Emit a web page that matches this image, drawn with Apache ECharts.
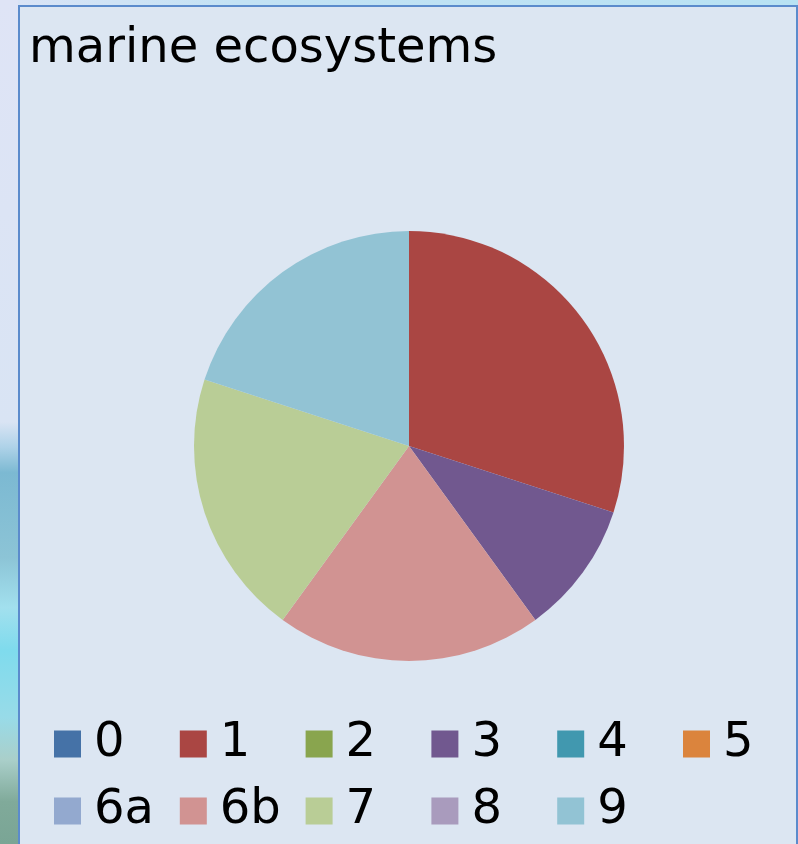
<!DOCTYPE html>
<html>
<head>
<meta charset="utf-8">
<title>marine ecosystems</title>
<script src="https://cdn.jsdelivr.net/npm/echarts@6/dist/echarts.min.js"></script>
<style>
  html, body { margin: 0; padding: 0; background: #dce6f2; }
  #chart { width: 798px; height: 844px; }
</style>
</head>
<body>
<div id="chart"></div>
<script>
// Categories and counts per category
const categories = ['0', '1', '2', '3', '4', '5', '6a', '6b', '7', '8', '9'];
const counts     = [0, 3, 0, 1, 0, 0, 0, 2, 2, 0, 2];
const colors = ['#4572a7', '#aa4643', '#89a54e', '#71588f', '#4198af', '#db843d',
                '#93a9cf', '#d19392', '#b9cd96', '#a99bbd', '#92c3d4'];
const legendRow1 = ['0', '1', '2', '3', '4', '5'];
const legendRow2 = ['6a', '6b', '7', '8', '9'];
const titleText = 'marine ecosystems';

const FONT = 'DejaVu Sans, Verdana, sans-serif';
const LEGEND_LEFT = 54;
const LEGEND_COL_STEP = 125.8;

const chart = echarts.init(document.getElementById('chart'), null, { renderer: 'canvas' });

// the legend is laid out as a grid: one vertical legend per column
const legends = legendRow1.map((first, c) => {
  const data = [first];
  if (c < legendRow2.length) data.push(legendRow2[c]);
  return {
    orient: 'vertical',
    left: LEGEND_LEFT + c * LEGEND_COL_STEP,
    top: 720,
    padding: 0,
    itemWidth: 27,
    itemHeight: 27,
    itemGap: 19,
    icon: 'rect',
    selectedMode: false,
    formatter: name => '{n|' + name + '}',
    textStyle: {
      fontFamily: FONT,
      fontSize: 48,
      color: '#000',
      rich: {
        n: { fontFamily: FONT, fontSize: 48, color: '#000', padding: [0, 0, 0, 8] }
      }
    },
    data: data
  };
});

chart.setOption({
  backgroundColor: '#dce6f2',
  color: colors,
  animation: false,
  title: {
    text: titleText,
    left: 24,
    top: 21,
    textStyle: { fontFamily: FONT, fontSize: 48, fontWeight: 'normal', color: '#000' }
  },
  legend: legends,
  graphic: [
    // surrounding slide strip along the top
    {
      type: 'rect', z: 100, silent: true,
      shape: { x: 0, y: 0, width: 798, height: 5 },
      style: {
        fill: new echarts.graphic.LinearGradient(0, 0, 1, 0, [
          { offset: 0, color: '#dbe4f6' },
          { offset: 0.3, color: '#c3e2f4' },
          { offset: 1, color: '#b8e2f3' }
        ])
      }
    },
    // surrounding slide strip along the left edge
    {
      type: 'rect', z: 100, silent: true,
      shape: { x: 0, y: 0, width: 18, height: 844 },
      style: {
        fill: new echarts.graphic.LinearGradient(0, 0, 0, 1, [
          { offset: 0, color: '#dfe4f6' },
          { offset: 0.5, color: '#d9e4f4' },
          { offset: 0.53, color: '#aed2e8' },
          { offset: 0.56, color: '#7cb9d2' },
          { offset: 0.66, color: '#8cc4d6' },
          { offset: 0.72, color: '#a2e0ee' },
          { offset: 0.77, color: '#7fdbed' },
          { offset: 0.85, color: '#98dbe8' },
          { offset: 0.9, color: '#aacfca' },
          { offset: 0.95, color: '#80aa9a' },
          { offset: 1, color: '#7aa595' }
        ])
      }
    },
    // chart frame border
    {
      type: 'rect', z: 101, silent: true,
      shape: { x: 19, y: 6, width: 778, height: 850 },
      style: { fill: 'none', stroke: '#5b8bcc', lineWidth: 2 }
    }
  ],
  series: [{
    type: 'pie',
    center: [409, 446],
    radius: 215,
    startAngle: 90,
    clockwise: true,
    avoidLabelOverlap: false,
    label: { show: false },
    labelLine: { show: false },
    emphasis: { disabled: true },
    itemStyle: { borderWidth: 0 },
    data: categories.map((name, i) => ({ name: name, value: counts[i] }))
  }]
});
</script>
</body>
</html>
